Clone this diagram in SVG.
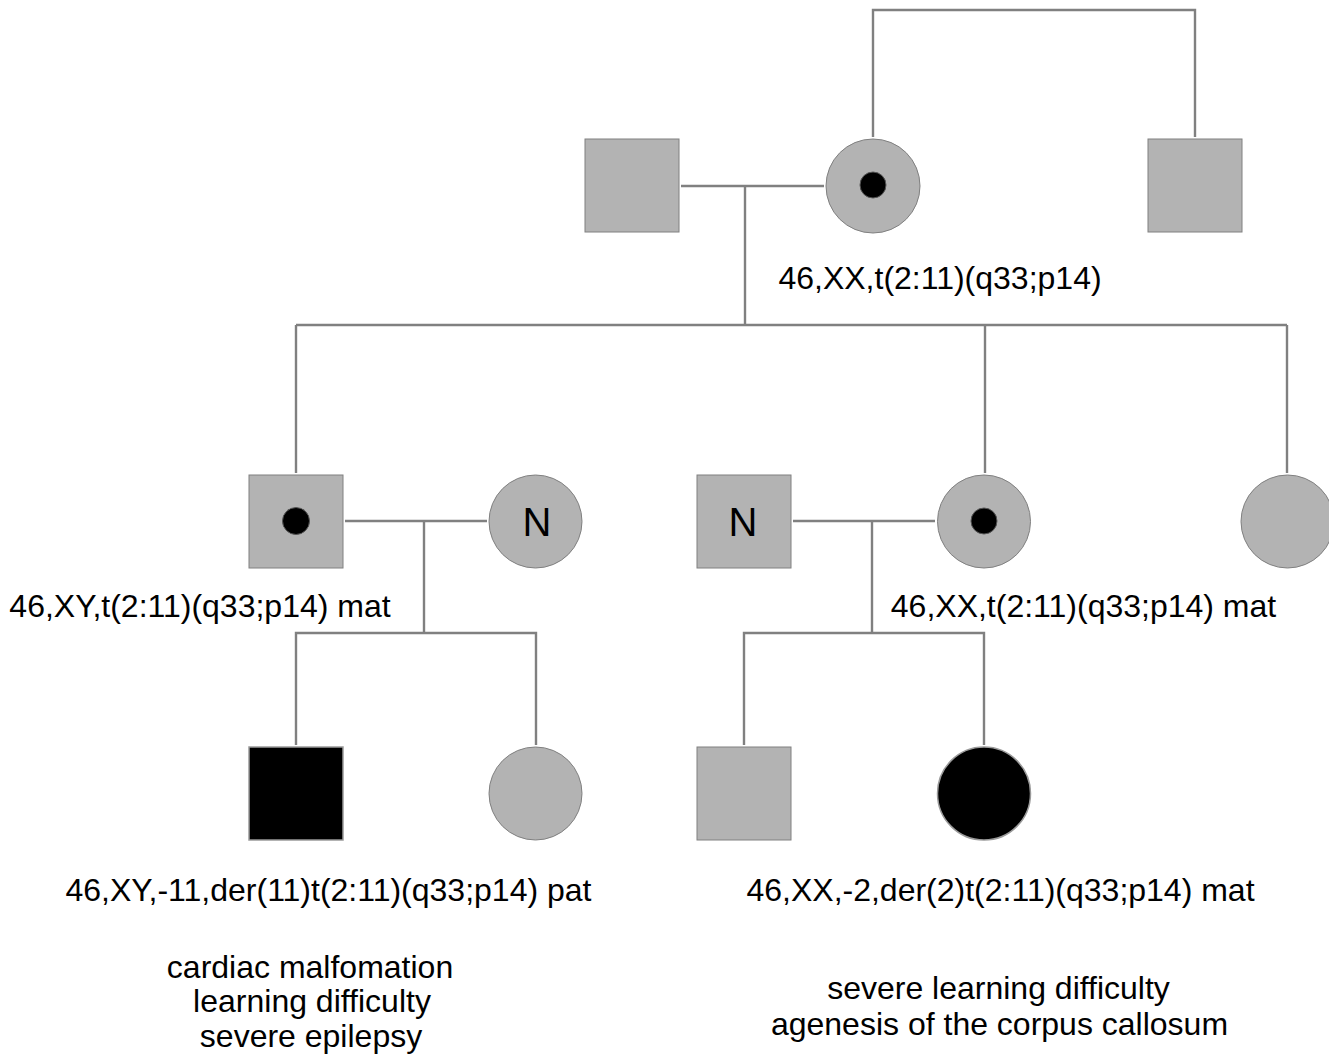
<svg xmlns="http://www.w3.org/2000/svg" width="1329" height="1058" viewBox="0 0 1329 1058">
<style>
.n{fill:#b3b3b3;stroke:#808080;stroke-width:1}
.a{fill:#000;stroke:#9a9a9a;stroke-width:1.5}
.dot{fill:#000;stroke:#555;stroke-width:1}
.l{fill:none;stroke:#808080;stroke-width:2.4}
text{font-family:"Liberation Sans",Arial,sans-serif;font-size:32px;fill:#000}
.c{text-anchor:middle}
.N{font-size:40px;text-anchor:middle}
</style>
<rect width="1329" height="1058" fill="#fff"/>
<g id="connectors">
<polyline class="l" points="873,137 873,10 1195,10 1195,137"/>
<line class="l" x1="681" y1="186" x2="824" y2="186"/>
<line class="l" x1="745" y1="186" x2="745" y2="325"/>
<line class="l" x1="296" y1="325" x2="1287" y2="325"/>
<line class="l" x1="296" y1="325" x2="296" y2="473"/>
<line class="l" x1="985" y1="325" x2="985" y2="473"/>
<line class="l" x1="1287" y1="325" x2="1287" y2="473"/>
<line class="l" x1="345" y1="521" x2="487" y2="521"/>
<line class="l" x1="424" y1="521" x2="424" y2="633"/>
<polyline class="l" points="296,745 296,633 536,633 536,745"/>
<line class="l" x1="793" y1="521" x2="935" y2="521"/>
<line class="l" x1="872" y1="521" x2="872" y2="633"/>
<polyline class="l" points="744,745 744,633 984,633 984,745"/>
</g>
<g id="I1"><rect class="n" x="585" y="139" width="94" height="93"/></g>
<g id="I2"><circle class="n" cx="873" cy="186" r="47"/><circle class="dot" cx="873" cy="185" r="13"/></g>
<g id="I3"><rect class="n" x="1148" y="139" width="94" height="93"/></g>
<g id="II1"><rect class="n" x="249" y="475" width="94" height="93"/><circle class="dot" cx="296" cy="521" r="13.5"/></g>
<g id="II2"><circle class="n" cx="535.5" cy="521.5" r="46.5"/><text class="N" x="537" y="536">N</text></g>
<g id="II3"><rect class="n" x="697" y="475" width="94" height="93"/><text class="N" x="743" y="536">N</text></g>
<g id="II4"><circle class="n" cx="984" cy="521.5" r="46.5"/><circle class="dot" cx="984" cy="521" r="13"/></g>
<g id="II5"><circle class="n" cx="1287.5" cy="521.5" r="46.5"/></g>
<g id="III1"><rect class="a" x="249" y="747" width="94" height="93"/></g>
<g id="III2"><circle class="n" cx="535.5" cy="793.5" r="46.5"/></g>
<g id="III3"><rect class="n" x="697" y="747" width="94" height="93"/></g>
<g id="III4"><circle class="a" cx="984" cy="793.5" r="46.5"/></g>
<g id="labels">
<text class="c" x="940" y="289">46,XX,t(2:11)(q33;p14)</text>
<text class="c" x="200" y="617">46,XY,t(2:11)(q33;p14) mat</text>
<text class="c" x="1083.5" y="617">46,XX,t(2:11)(q33;p14) mat</text>
<text class="c" x="328.5" y="901">46,XY,-11,der(11)t(2:11)(q33;p14) pat</text>
<text class="c" x="1000.5" y="901">46,XX,-2,der(2)t(2:11)(q33;p14) mat</text>
<text class="c" x="310" y="978">cardiac malfomation</text>
<text class="c" x="312" y="1012">learning difficulty</text>
<text class="c" x="311" y="1047">severe epilepsy</text>
<text class="c" x="998.5" y="999">severe learning difficulty</text>
<text class="c" x="999.5" y="1035">agenesis of the corpus callosum</text>
</g>
</svg>
